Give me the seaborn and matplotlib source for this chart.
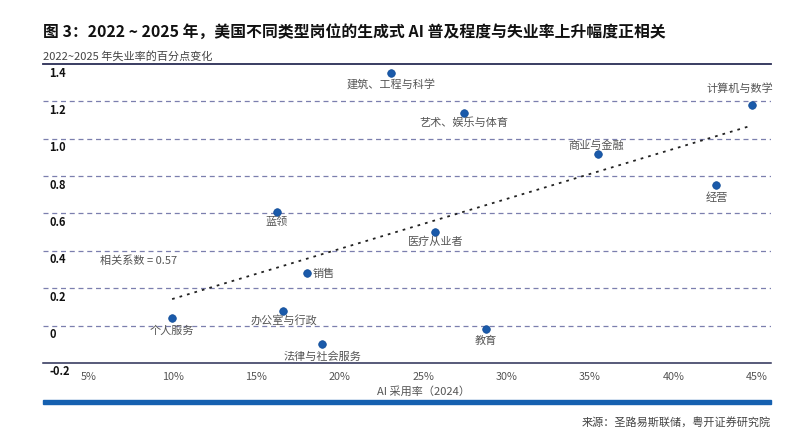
import numpy as np
import pandas as pd
import matplotlib
matplotlib.use('Agg')
import matplotlib.pyplot as plt
from matplotlib.patches import Rectangle
import seaborn as sns

# Data
jobs = ['建筑、工程与科学', '艺术、娱乐与体育', '计算机与数学', '商业与金融', '经营',
        '医疗从业者', '蓝领', '销售', '个人服务', '办公室与行政', '法律与社会服务', '教育']
ai_rate = [23.1, 27.45, 44.7, 35.5, 42.55, 25.7, 16.24, 18.05, 9.97, 16.6, 18.97, 28.75]
unemp_change = [1.35, 1.14, 1.18, 0.92, 0.75, 0.50, 0.61, 0.28, 0.04, 0.08, -0.10, -0.02]

# label offsets (pixels) relative to each point
label_dx = [0, 0, -12, -2, 1, 1, 0, 6, 0, 1, 0, 0]
label_dy = [-11, -10, 17, 8, -12, -10, -10, -1, -13, -10, -12, -12]
label_ha = ['center'] * 7 + ['left'] + ['center'] * 4

y_ticks = [1.4, 1.2, 1.0, 0.8, 0.6, 0.4, 0.2, 0, -0.2]
y_ticklabels = ['1.4', '1.2', '1.0', '0.8', '0.6', '0.4', '0.2', '0', '-0.2']
x_ticks = [5, 10, 15, 20, 25, 30, 35, 40, 45]
x_ticklabels = ['5%', '10%', '15%', '20%', '25%', '30%', '35%', '40%', '45%']

df = pd.DataFrame({'job': jobs, 'ai': ai_rate, 'unemp': unemp_change})

sns.set_style('white')
plt.rcParams['font.family'] = ['Noto Sans CJK SC', 'DejaVu Sans']
plt.rcParams['axes.unicode_minus'] = False

fig = plt.figure(figsize=(8, 4.48), dpi=100)
ax = fig.add_axes([0.054, 0.19, 0.910, 0.667])

# dashed gridlines
for yv in y_ticks[1:-1]:
    ax.axhline(yv, color='#7b7fae', lw=0.9, ls=(0, (4, 3)), zorder=1)

# linear fit (dotted trend line)
slope, intercept = np.polyfit(df['ai'], df['unemp'], 1)
fit = pd.DataFrame({'ai': [df['ai'].min(), df['ai'].max()]})
fit['unemp'] = slope * fit['ai'] + intercept
sns.lineplot(data=fit, x='ai', y='unemp', ax=ax, color='#222222', lw=1.3,
             linestyle=(0, (1.5, 2.8)), zorder=2)

sns.scatterplot(data=df, x='ai', y='unemp', ax=ax, color='#1a5aaa', s=30,
                edgecolor='#0f4a96', linewidth=0.5, zorder=3)

for i, row in df.iterrows():
    ax.annotate(row['job'], (row['ai'], row['unemp']),
                xytext=(label_dx[i], label_dy[i]), textcoords='offset pixels',
                ha=label_ha[i], va='center', fontsize=8, color='#555555')

ax.text(5.66, 0.347, '相关系数 = 0.57', ha='left', va='center', fontsize=8, color='#555555')

ax.set_xlim(2.25, 45.85)
ax.set_ylim(-0.2, 1.4)
ax.set_xticks(x_ticks)
ax.set_xticklabels(x_ticklabels, fontsize=7.8, color='#555555')
ax.set_yticks(y_ticks)
ax.set_yticklabels([])
ax.tick_params(axis='x', length=2.5, width=0.8, color='#333355', pad=4)
ax.tick_params(axis='y', length=0)
ax.set_xlabel('')
ax.set_ylabel('')

# y tick labels drawn under each gridline
for yv, lab in zip(y_ticks, y_ticklabels):
    ax.annotate(lab, (0, yv), xycoords=('axes fraction', 'data'),
                xytext=(6, -9), textcoords='offset pixels',
                ha='left', va='center', fontsize=8, fontweight='bold', color='#111111')

for side in ['left', 'right']:
    ax.spines[side].set_visible(False)
ax.spines['top'].set_color('#2a2d55')
ax.spines['top'].set_linewidth(1.3)
ax.spines['bottom'].set_color('#2a2d55')
ax.spines['bottom'].set_linewidth(1.1)

fig.text(0.054, 1 - 32 / 448, '图 3：2022 ~ 2025 年，美国不同类型岗位的生成式 AI 普及程度与失业率上升幅度正相关',
         ha='left', va='center', fontsize=11.4, fontweight='bold', color='#111111')
fig.text(0.054, 1 - 56 / 448, '2022~2025 年失业率的百分点变化', ha='left', va='center',
         fontsize=8, color='#444444')
fig.text(423 / 800, 1 - 392 / 448, 'AI 采用率（2024）', ha='center', va='center',
         fontsize=8, color='#555555')
fig.patches.append(Rectangle((0.054, 1 - 404 / 448), 0.910, 4 / 448,
                             transform=fig.transFigure, color='#1560b0', zorder=0))
fig.text(771 / 800, 1 - 422 / 448, '来源：圣路易斯联储，粤开证券研究院', ha='right', va='center',
         fontsize=8, color='#444444')

fig.savefig('out.png', dpi=100)
